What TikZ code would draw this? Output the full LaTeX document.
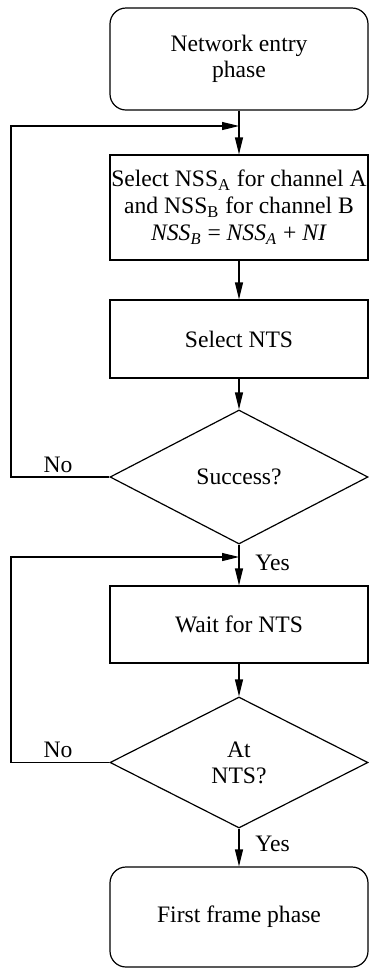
\documentclass[tikz,border=0pt]{standalone}
\usepackage{fontspec}
\setmainfont{Liberation Serif}
\usetikzlibrary{shapes.geometric,arrows.meta}
\begin{document}
\begin{tikzpicture}[x=0.5pt,y=-0.5pt,
  every node/.style={font=\fontsize{11.8}{13}\selectfont},
  line/.style={draw=black,line width=0.6pt},
  arr/.style={line,-{Triangle[length=8.5pt,width=4pt]}},
  term/.style={line,rounded corners=8pt,minimum width=129pt,inner sep=0pt,align=center},
  proc/.style={line,rectangle,minimum width=129pt,inner sep=0pt,align=center},
  dec/.style={line,diamond,aspect=2,minimum width=129pt,inner sep=0pt,align=center},
  lab/.style={inner sep=0pt,anchor=base west}
]
\useasboundingbox (0,0) rectangle (369,970);
\node[term,minimum height=51pt] (start) at (239,59) {Network entry\\phase};
\node[proc,minimum height=52.5pt,font=\fontsize{11.8}{13.5}\selectfont] (sel) at (239,207.5) {Select NSS\textsubscript{A} for channel A\\and NSS\textsubscript{B} for channel B\\\textit{NSS}\textsubscript{\textit{B}} = \textit{NSS}\textsubscript{\textit{A}} + \textit{NI}};
\node[proc,minimum height=39pt] (nts) at (239,339) {Select NTS};
\node[dec,minimum height=67pt] (succ) at (239,477) {Success?};
\node[proc,minimum height=38.5pt] (wait) at (239,624.5) {Wait for NTS};
\node[dec,minimum height=65.5pt] (at) at (239,762.5) {At\\NTS?};
\node[term,minimum height=50pt] (first) at (239,917) {First frame phase};

\coordinate (j1) at (239,126);
\coordinate (j2) at (239,557);
\coordinate (l1) at (11,477);
\coordinate (l2) at (11,762.5);

\draw[arr] (start.south) -- (sel.north);
\draw[arr] (sel.south) -- (nts.north);
\draw[arr] (nts.south) -- (succ.north);
\draw[arr] (succ.south) -- (wait.north);
\draw[arr] (wait.south) -- (at.north);
\draw[arr] (at.south) -- (first.north);
\draw[arr] (succ.west) -- (l1) |- (j1);
\draw[arr] (at.west) -- (l2) |- (j2);

\node[lab,anchor=base] (no1) at (58,472) {No};
\node[lab,anchor=base] (no2) at (58,757.5) {No};
\node[lab] (yes1) at (255,570) {Yes};
\node[lab] (yes2) at (255,851) {Yes};
\end{tikzpicture}
\end{document}
